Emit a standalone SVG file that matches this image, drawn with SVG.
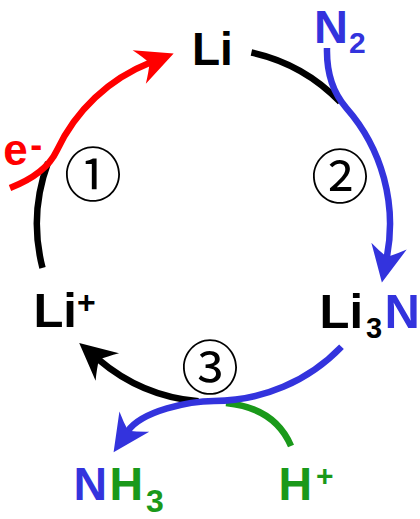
<svg xmlns="http://www.w3.org/2000/svg" width="420" height="519" viewBox="0 0 420 519">
<style>
.lbl{font-family:"Liberation Sans",Arial,sans-serif;font-weight:bold}
.num{font-family:"Noto Sans CJK JP","DejaVu Sans",sans-serif;text-anchor:middle;fill:#000}
.ln{fill:none;stroke-width:6.5;stroke-linecap:butt}
.k{stroke:#000}.r{stroke:#ff0000}.b{stroke:#3333dd}.g{stroke:#1a991a}
</style>
<defs>
<marker id="ah-k" viewBox="-40 -20 42 40" refX="-25" refY="0" markerWidth="42" markerHeight="40" markerUnits="userSpaceOnUse" orient="auto"><path d="M0,0 L-37,-18 Q-30,-8 -26,0 Q-30,8 -37,18 Z" fill="#000"/></marker>
<marker id="ah-r" viewBox="-40 -20 42 40" refX="-25" refY="0" markerWidth="42" markerHeight="40" markerUnits="userSpaceOnUse" orient="auto"><path d="M0,0 L-37,-18 Q-30,-8 -26,0 Q-30,8 -37,18 Z" fill="#ff0000"/></marker>
<marker id="ah-b" viewBox="-40 -20 42 40" refX="-25" refY="0" markerWidth="42" markerHeight="40" markerUnits="userSpaceOnUse" orient="auto"><path d="M0,0 L-37,-18 Q-30,-8 -26,0 Q-30,8 -37,18 Z" fill="#3333dd"/></marker>
</defs>
<rect width="420" height="519" fill="#fff"/>
<g id="connectors">
<path class="ln k" d="M251.4 52.5 A175.5 175.5 0 0 1 340.2 102.1"/>
<path class="ln k" d="M42.5 267.9 A177 177 0 0 1 48.1 162.3"/>
<path class="ln k" d="M198.5 401.3 A178 178 0 0 1 98.2 359.2" marker-end="url(#ah-k)"/>
<path class="ln g" d="M226 403 Q275 408 291 446"/>
<path class="ln b" d="M327 48 C326.5 69 331 90.5 346.2 107.8 A176 176 0 0 1 386.7 257.9" marker-end="url(#ah-b)"/>
<path class="ln b" d="M341.5 346.7 A177 177 0 0 1 214 401 C190 401 141.6 410.8 127.6 431.5" marker-end="url(#ah-b)"/>
<path class="ln r" d="M10 188 C28 181 48.3 168.8 56.8 150.7 A173.5 173.5 0 0 1 150.4 62.6" marker-end="url(#ah-r)"/>
</g>
<g id="node-li"><text class="lbl" x="192" y="65" font-size="46" fill="#000">Li</text></g>
<g id="node-n2"><text class="lbl" x="314" y="43" font-size="47" fill="#3333dd">N<tspan x="349" y="53" font-size="30">2</tspan></text></g>
<g id="node-li3n"><text class="lbl" x="319.5" y="328" font-size="49" fill="#000">Li<tspan x="366" y="338" font-size="29">3</tspan><tspan x="384.4" y="328" fill="#3333dd">N</tspan></text></g>
<g id="node-liplus"><text class="lbl" x="33.4" y="327" font-size="49" fill="#000">Li<tspan x="77" y="313" font-size="32">+</tspan></text></g>
<g id="node-nh3"><text class="lbl" x="73.6" y="500" font-size="46.5" fill="#3333dd">N<tspan x="109.6" fill="#1a991a">H</tspan><tspan x="146" y="512" font-size="32" fill="#1a991a">3</tspan></text></g>
<g id="node-hplus"><text class="lbl" x="278.6" y="500" font-size="46.5" fill="#1a991a">H<tspan x="316" y="486" font-size="30">+</tspan></text></g>
<g id="node-e"><text class="lbl" x="3.2" y="164.5" font-size="44" fill="#ff0000">e<tspan x="30.3" y="157.4" font-size="36">-</tspan></text></g>
<g id="step-1"><text class="num" x="93" y="196" font-size="58">①</text></g>
<g id="step-2"><text class="num" x="340" y="198" font-size="58">②</text></g>
<g id="step-3"><text class="num" x="210" y="389" font-size="58">③</text></g>
</svg>
